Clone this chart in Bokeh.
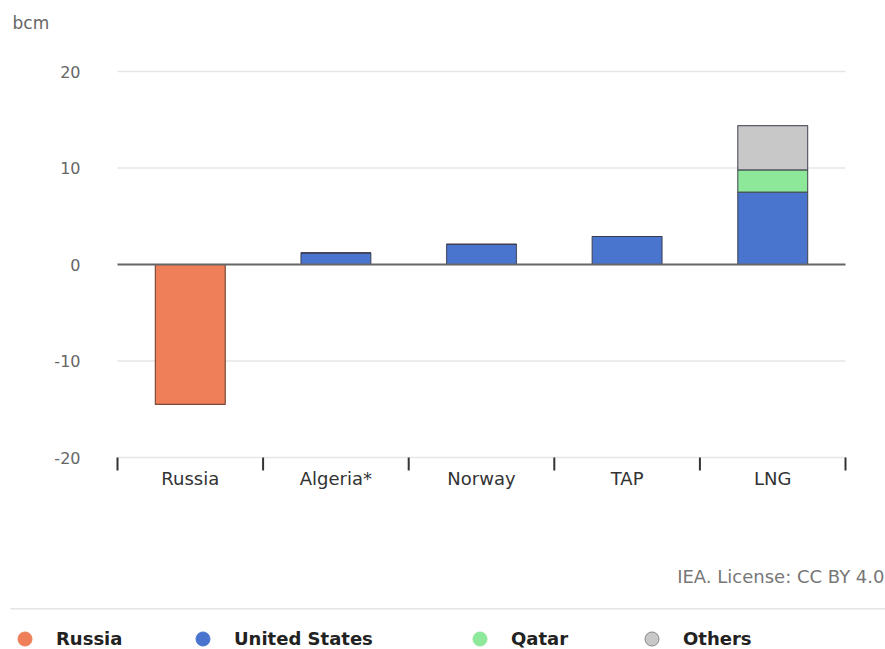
from bokeh.plotting import figure
from bokeh.models import (ColumnDataSource, Range1d, Label, Legend, LegendItem,
                          BoxAnnotation)
from bokeh.core.properties import value
from bokeh.embed import file_html
from bokeh.resources import INLINE

# ---- data ----
categories = ["Russia", "Algeria*", "Norway", "TAP", "LNG"]
russia = [-14.5, 0, 0, 0, 0]
united_states = [0, 1.2, 2.1, 2.9, 7.5]
qatar = [0, 0, 0, 0, 2.3]
others = [0, 0, 0, 0, 4.6]
series_names = ["Russia", "United States", "Qatar", "Others"]
y_ticks = [-20, -10, 0, 10, 20]
y_tick_labels = ["-20", "-10", "0", "10", "20"]
unit = "bcm"
credit = "IEA. License: CC BY 4.0"

# ---- style / layout ----
colors = ["#ee7f58", "#4a75cf", "#8ee89a", "#c8c8c8"]
FONT = "DejaVu Sans"
W, H = 885, 649
FL, FR, FT, FB = 117, 845, 71, 457      # plot area in pixels
n = len(categories)
ymin, ymax = min(y_ticks), max(y_ticks)
xpp = n / (FR - FL)
ypp = (ymax - ymin) / (FB - FT)
x_range = Range1d(-FL * xpp, n + (W - FR) * xpp)
y_range = Range1d(ymin - (H - FB) * ypp, ymax + FT * ypp)

p = figure(width=W, height=H, output_backend="svg", toolbar_location=None,
           x_range=x_range, y_range=y_range, x_axis_type=None, y_axis_type=None,
           min_border=0)
p.outline_line_color = None
p.grid.grid_line_color = None

xpos = [i + 0.5 for i in range(n)]

# gridlines
grid_y = [t for t in y_ticks if t != 0]
p.segment(x0=0, x1=n, y0=grid_y, y1=grid_y, line_color="#e6e6e6", line_width=1.5)

# bars
ru_src = ColumnDataSource(dict(x=[x for x, v in zip(xpos, russia) if v != 0],
                               top=[v for v in russia if v != 0]))
p.vbar(x="x", top="top", bottom=0, width=0.48, source=ru_src,
       fill_color=colors[0], line_color="#7a4a3a", line_width=1.2)

src = ColumnDataSource(dict(x=xpos, us=united_states, qatar=qatar, others=others))
p.vbar_stack(["us", "qatar", "others"], x="x", width=0.48, source=src,
             fill_color=colors[1:], line_color="#3a3a4a", line_width=1.2,
             line_alpha=0.8)

# zero line
p.segment(x0=0, x1=n, y0=0, y1=0, line_color="#666666", line_width=2)

# y tick labels
p.text(x=0, y=y_ticks, text=y_tick_labels, x_offset=-37, text_align="right",
       text_baseline="middle", text_font=value(FONT), text_font_size="16px",
       text_color="#666666")

# x boundary ticks and category labels
bounds = list(range(n + 1))
p.segment(x0=bounds, x1=bounds, y0=ymin, y1=ymin - 13 * ypp,
          line_color="#333333", line_width=2)
p.text(x=xpos, y=ymin, text=categories, y_offset=21, text_align="center",
       text_baseline="middle", text_font=value(FONT), text_font_size="18px",
       text_color="#333333")

# unit label and credit
p.add_layout(Label(x=12, y=H - 22, x_units="screen", y_units="screen", text=unit,
                   text_baseline="middle", text_font=FONT, text_font_size="17px",
                   text_color="#666666"))
p.add_layout(Label(x=W - 1, y=H - 576, x_units="screen", y_units="screen",
                   text=credit, text_align="right", text_baseline="middle",
                   text_font=FONT, text_font_size="18px", text_color="#777777"))

# separator line
p.add_layout(BoxAnnotation(left=10, right=W, bottom=H - 609, top=H - 607.5,
                           left_units="screen", right_units="screen",
                           bottom_units="screen", top_units="screen",
                           fill_color="#e4e4e4", fill_alpha=1, line_color=None))

# legend
dummies = []
for name, c in zip(series_names, colors):
    lc = "#888888" if name == "Others" else c
    r = p.scatter(x=[float("nan")], y=[float("nan")], marker="circle", size=14,
                  fill_color=c, line_color=lc)
    dummies.append(r)

leg_x = [7, 185, 462, 634]
for r, name, lx in zip(dummies, series_names, leg_x):
    lg = Legend(items=[LegendItem(label=name, renderers=[r])],
                location=(lx, -7), orientation="horizontal",
                border_line_color=None, background_fill_alpha=0,
                label_text_font=FONT, label_text_font_style="bold",
                label_text_font_size="18px", label_text_color="#222222",
                glyph_width=35, glyph_height=35, label_standoff=14,
                padding=0, margin=0)
    p.add_layout(lg, "center")

open("out.html", "w").write(file_html(p, INLINE))
